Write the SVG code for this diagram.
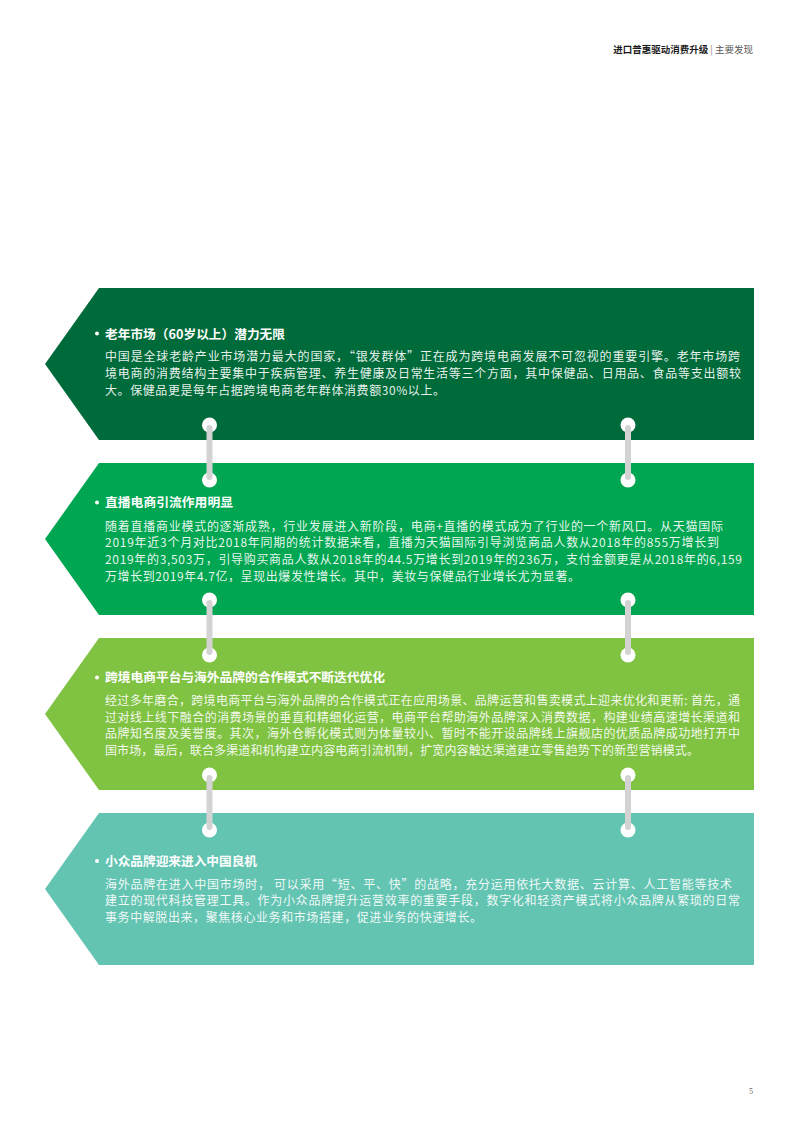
<svg xmlns="http://www.w3.org/2000/svg" width="800" height="1132" viewBox="0 0 800 1132">
<style>
.hd{font-family:"Noto Sans CJK SC","Noto Sans",sans-serif;font-size:9.5px}
.tt{font-family:"Noto Sans CJK SC","Noto Sans",sans-serif;font-size:12.5px;font-weight:bold;fill:#ffffff}
.bd{font-family:"Noto Sans CJK SC","Noto Sans",sans-serif;font-size:12px;fill:#ffffff;fill-opacity:0.92}
.dot{fill:#ffffff}
.ring{fill:#ffffff}
.bar{stroke:#d3d3d3;stroke-width:6;stroke-linecap:round}
</style>
<rect width="800" height="1132" fill="#ffffff"/>
<g id="header">
<text class="hd" x="753" y="52.5" text-anchor="end"><tspan font-weight="bold" fill="#1a1a1a">进口普惠驱动消费升级</tspan><tspan fill="#888888"> | </tspan><tspan fill="#555555">主要发现</tspan></text>
</g>
<g id="node1">
<polygon points="99,288 754,288 754,440 99,440 45,364" fill="#006b3a"/>
<circle class="dot" cx="97" cy="333.5" r="2"/>
<text class="tt" x="105" y="338.5" textLength="180" lengthAdjust="spacingAndGlyphs">老年市场（60岁以上）潜力无限</text>
<text class="bd" x="105" y="361" textLength="635" lengthAdjust="spacing">中国是全球老龄产业市场潜力最大的国家，“银发群体”正在成为跨境电商发展不可忽视的重要引擎。老年市场跨</text>
<text class="bd" x="105" y="378" textLength="636" lengthAdjust="spacing">境电商的消费结构主要集中于疾病管理、养生健康及日常生活等三个方面，其中保健品、日用品、食品等支出额较</text>
<text class="bd" x="105" y="395" textLength="340" lengthAdjust="spacing">大。保健品更是每年占据跨境电商老年群体消费额30%以上。</text>
</g>
<g id="node2">
<polygon points="99,463 754,463 754,615 99,615 45,539" fill="#00a651"/>
<circle class="dot" cx="97" cy="502.5" r="2"/>
<text class="tt" x="105" y="507" textLength="128" lengthAdjust="spacingAndGlyphs">直播电商引流作用明显</text>
<text class="bd" x="105" y="530.5" textLength="618" lengthAdjust="spacing">随着直播商业模式的逐渐成熟，行业发展进入新阶段，电商+直播的模式成为了行业的一个新风口。从天猫国际</text>
<text class="bd" x="105" y="547.2" textLength="614" lengthAdjust="spacing">2019年近3个月对比2018年同期的统计数据来看，直播为天猫国际引导浏览商品人数从2018年的855万增长到</text>
<text class="bd" x="105" y="563.9" textLength="637" lengthAdjust="spacing">2019年的3,503万，引导购买商品人数从2018年的44.5万增长到2019年的236万，支付金额更是从2018年的6,159</text>
<text class="bd" x="105" y="580.6" textLength="475" lengthAdjust="spacing">万增长到2019年4.7亿，呈现出爆发性增长。其中，美妆与保健品行业增长尤为显著。</text>
</g>
<g id="node3">
<polygon points="99,638 754,638 754,790 99,790 45,714" fill="#80c242"/>
<circle class="dot" cx="97" cy="677.5" r="2"/>
<text class="tt" x="105" y="682" textLength="280" lengthAdjust="spacingAndGlyphs">跨境电商平台与海外品牌的合作模式不断迭代优化</text>
<text class="bd" x="105" y="705" textLength="635" lengthAdjust="spacing">经过多年磨合，跨境电商平台与海外品牌的合作模式正在应用场景、品牌运营和售卖模式上迎来优化和更新: 首先，通</text>
<text class="bd" x="105" y="721.7" textLength="635" lengthAdjust="spacing">过对线上线下融合的消费场景的垂直和精细化运营，电商平台帮助海外品牌深入消费数据，构建业绩高速增长渠道和</text>
<text class="bd" x="105" y="738.4" textLength="635" lengthAdjust="spacing">品牌知名度及美誉度。其次，海外仓孵化模式则为体量较小、暂时不能开设品牌线上旗舰店的优质品牌成功地打开中</text>
<text class="bd" x="105" y="755.1" textLength="594" lengthAdjust="spacing">国市场，最后，联合多渠道和机构建立内容电商引流机制，扩宽内容触达渠道建立零售趋势下的新型营销模式。</text>
</g>
<g id="node4">
<polygon points="99,813 754,813 754,965 99,965 45,889" fill="#64c4b2"/>
<circle class="dot" cx="97" cy="861" r="2"/>
<text class="tt" x="105" y="865.5" textLength="152" lengthAdjust="spacingAndGlyphs">小众品牌迎来进入中国良机</text>
<text class="bd" x="105" y="888.5" textLength="627" lengthAdjust="spacing">海外品牌在进入中国市场时， 可以采用“短、平、快”的战略，充分运用依托大数据、云计算、人工智能等技术</text>
<text class="bd" x="105" y="905.2" textLength="635" lengthAdjust="spacing">建立的现代科技管理工具。作为小众品牌提升运营效率的重要手段，数字化和轻资产模式将小众品牌从繁琐的日常</text>
<text class="bd" x="105" y="921.9" textLength="377" lengthAdjust="spacing">事务中解脱出来，聚焦核心业务和市场搭建，促进业务的快速增长。</text>
</g>
<g id="connectors">
<circle class="ring" cx="209.5" cy="425" r="7.5"/>
<circle class="ring" cx="209.5" cy="480" r="7.5"/>
<line class="bar" x1="209.5" y1="428" x2="209.5" y2="477"/>
<circle class="ring" cx="628" cy="425" r="7.5"/>
<circle class="ring" cx="628" cy="480" r="7.5"/>
<line class="bar" x1="628" y1="428" x2="628" y2="477"/>
<circle class="ring" cx="209.5" cy="600" r="7.5"/>
<circle class="ring" cx="209.5" cy="655" r="7.5"/>
<line class="bar" x1="209.5" y1="603" x2="209.5" y2="652"/>
<circle class="ring" cx="628" cy="600" r="7.5"/>
<circle class="ring" cx="628" cy="655" r="7.5"/>
<line class="bar" x1="628" y1="603" x2="628" y2="652"/>
<circle class="ring" cx="209.5" cy="775" r="7.5"/>
<circle class="ring" cx="209.5" cy="830" r="7.5"/>
<line class="bar" x1="209.5" y1="778" x2="209.5" y2="827"/>
<circle class="ring" cx="628" cy="775" r="7.5"/>
<circle class="ring" cx="628" cy="830" r="7.5"/>
<line class="bar" x1="628" y1="778" x2="628" y2="827"/>
</g>
<text x="753" y="1094" font-family="Liberation Serif, serif" font-size="8" fill="#666666" text-anchor="end">5</text>
</svg>
